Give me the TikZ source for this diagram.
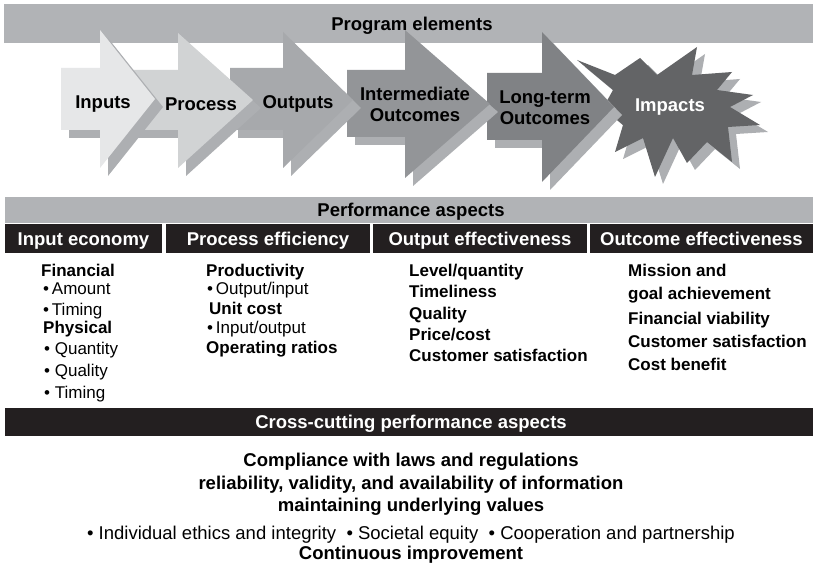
\documentclass[tikz,border=0pt]{standalone}
\usepackage{fontspec}
\setmainfont{Liberation Sans}
\definecolor{bandgray}{HTML}{B1B3B6}
\definecolor{hdrblack}{HTML}{231F20}
\definecolor{shadowc}{HTML}{ADAFB2}
\definecolor{cInputs}{HTML}{E6E7E8}
\definecolor{cProcess}{HTML}{D1D3D4}
\definecolor{cOutputs}{HTML}{A7A9AC}
\definecolor{cInter}{HTML}{939598}
\definecolor{cLong}{HTML}{808285}
\definecolor{cImpact}{HTML}{636466}
% arrow: fill, L, bodytop, bodybottom, headx, headtop, headbottom, tipx, tipy
\newcommand\ProgArrow[9]{%
  \fill[shadowc, shift={(8,8)}] (#2,#3) -- (#5,#3) -- (#5,#6) -- (#8,#9) -- (#5,#7) -- (#5,#4) -- (#2,#4) -- cycle;
  \fill[#1] (#2,#3) -- (#5,#3) -- (#5,#6) -- (#8,#9) -- (#5,#7) -- (#5,#4) -- (#2,#4) -- cycle;
}
\begin{document}
\begin{tikzpicture}[x=1pt,y=-1pt,
  bandtxt/.style={font=\fontsize{18.5}{22}\selectfont\bfseries, anchor=base, inner sep=0pt},
  hdrtxt/.style={font=\fontsize{18.5}{22}\selectfont\bfseries, text=white, anchor=base, inner sep=0pt},
  arrtxt/.style={font=\fontsize{18.5}{22}\selectfont\bfseries, align=center, inner sep=0pt},
  bodyb/.style={font=\fontsize{17}{20}\selectfont\bfseries, anchor=base west, inner sep=0pt},
  bodyr/.style={font=\fontsize{17}{20}\selectfont, anchor=base west, inner sep=0pt},
  ctrb/.style={font=\fontsize{18.5}{22}\selectfont\bfseries, anchor=base, inner sep=0pt},
  ctrr/.style={font=\fontsize{18.5}{22}\selectfont, anchor=base, inner sep=0pt},
]
\useasboundingbox (0,0) rectangle (813,569);
\fill[white] (0,0) rectangle (813,569);

% top band
\fill[bandgray] (4,4) rectangle (813,43);
\node[bandtxt] (pe) at (412,30.5) {Program elements};

% Impacts starburst (drawn first)
\def\starpath{(577,60) -- (615,75) -- (640,58) -- (657,75) -- (697,47) -- (692,75) -- (732,72) -- (717,90) -- (753,95) -- (730,107) -- (760,125) -- (728,127) -- (732,162) -- (707,142) -- (687,163) -- (673,138) -- (655,177) -- (643,138) -- (615,152) -- (623,125) -- (603,108) -- (613,90) -- cycle}
\fill[shadowc, shift={(8,7)}] \starpath;
\fill[cImpact] \starpath;

% arrows from right to left
\ProgArrow{cLong}{487}{73}{140}{542}{32}{182}{614}{107}
\ProgArrow{cInter}{347}{70}{137}{405}{30}{178}{490}{104}
\ProgArrow{cOutputs}{230}{68}{130}{283}{32}{168}{353}{100}
\ProgArrow{cProcess}{127}{70}{130}{178}{33}{168}{253}{100}
\ProgArrow{cInputs}{61}{68}{130}{100}{30}{168}{155}{99}

% arrow labels
\node[arrtxt] (inputs) at (103,104) {Inputs};
\node[arrtxt] (process) at (201,104) {Process};
\node[arrtxt] (outputs) at (298,104) {Outputs};
\node[arrtxt] (inter) at (415,104) {Intermediate\\[-1pt]Outcomes};
\node[arrtxt] (long) at (545,108) {Long-term\\[-1pt]Outcomes};
\node[arrtxt, text=white] (impacts) at (670,107) {Impacts};

% performance aspects
\fill[bandgray] (5,197) rectangle (813,223);
\node[bandtxt] (pa) at (411,216.5) {Performance aspects};
\fill[hdrblack] (5,224) rectangle (162,253);
\fill[hdrblack] (166,224) rectangle (370,253);
\fill[hdrblack] (373,224) rectangle (587,253);
\fill[hdrblack] (590,224) rectangle (813,253);
\node[hdrtxt] (h1) at (83.5,245) {Input economy};
\node[hdrtxt] (h2) at (268,245) {Process efficiency};
\node[hdrtxt] (h3) at (480,245) {Output effectiveness};
\node[hdrtxt] (h4) at (701.5,245) {Outcome effectiveness};

% column 1
\node[bodyb] (c1a) at (41,276) {Financial};
\node[bodyr] (c1b) at (43,294) {•\,Amount};
\node[bodyr] (c1c) at (43,315) {•\,Timing};
\node[bodyb] (c1d) at (43,333) {Physical};
\node[bodyr] (c1e) at (44,354) {• Quantity};
\node[bodyr] (c1f) at (44,376) {• Quality};
\node[bodyr] (c1g) at (44,398) {• Timing};

% column 2
\node[bodyb] (c2a) at (206,276) {Productivity};
\node[bodyr] (c2b) at (207,294) {•\,Output/input};
\node[bodyb] (c2c) at (209,314) {Unit cost};
\node[bodyr] (c2d) at (207,333) {•\,Input/output};
\node[bodyb] (c2e) at (206,353) {Operating ratios};

% column 3
\node[bodyb] (c3a) at (409,276) {Level/quantity};
\node[bodyb] (c3b) at (409,297) {Timeliness};
\node[bodyb] (c3c) at (409,319) {Quality};
\node[bodyb] (c3d) at (409,340) {Price/cost};
\node[bodyb] (c3e) at (409,361) {Customer satisfaction};

% column 4
\node[bodyb] (c4a) at (628,276) {Mission and};
\node[bodyb] (c4b) at (628,299) {goal achievement};
\node[bodyb] (c4c) at (628,324) {Financial viability};
\node[bodyb] (c4d) at (628,347) {Customer satisfaction};
\node[bodyb] (c4e) at (628,370) {Cost benefit};

% cross-cutting
\fill[hdrblack] (5,408) rectangle (813,436);
\node[hdrtxt] (cc) at (411,428.5) {Cross-cutting performance aspects};
\node[ctrb] (l1) at (411,466) {Compliance with laws and regulations};
\node[ctrb] (l2) at (411,489) {reliability, validity, and availability of information};
\node[ctrb] (l3) at (411,511) {maintaining underlying values};
\node[ctrr] (l4) at (411,539) {• Individual ethics and integrity \ • Societal equity \ • Cooperation and partnership};
\node[ctrb] (l5) at (411,559) {Continuous improvement};
\end{tikzpicture}
\end{document}
